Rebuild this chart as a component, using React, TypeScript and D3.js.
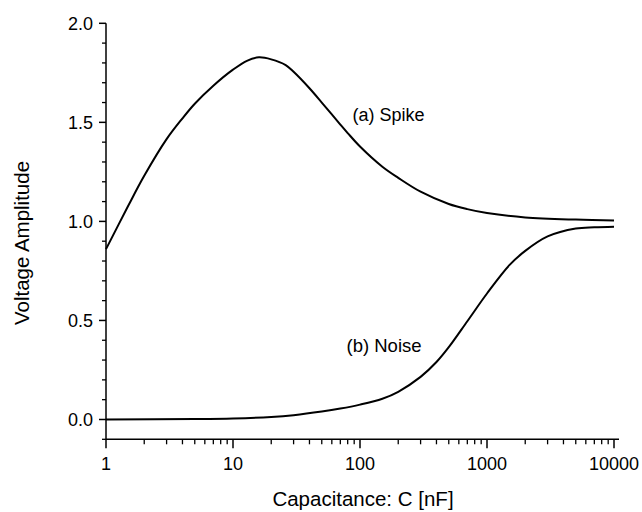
import React from "react";
import * as d3 from "d3";

const spikeC = [1, 1.5, 2, 3, 4, 5, 7, 10, 13, 16, 20, 26, 30, 40, 50, 60, 70, 80, 100, 150, 200, 300, 500, 700, 1000, 2000, 5000, 10000];
const spikeV = [0.86, 1.08, 1.23, 1.415, 1.52, 1.594, 1.685, 1.766, 1.812, 1.828, 1.818, 1.789, 1.755, 1.672, 1.6, 1.54, 1.489, 1.446, 1.378, 1.276, 1.22, 1.15, 1.088, 1.062, 1.042, 1.02, 1.009, 1.005];

const noiseC = [1, 5, 10, 20, 30, 50, 70, 100, 150, 200, 300, 400, 500, 700, 1000, 1500, 2000, 3000, 5000, 7000, 10000];
const noiseV = [0.0, 0.002, 0.005, 0.013, 0.022, 0.04, 0.055, 0.075, 0.105, 0.14, 0.215, 0.29, 0.365, 0.496, 0.636, 0.779, 0.851, 0.924, 0.964, 0.97, 0.973];

const xMajorTicks = [1, 10, 100, 1000, 10000];
const xTickLabels = ["1", "10", "100", "1000", "10000"];
const yMajorTicks = [0, 0.5, 1.0, 1.5, 2.0];
const yTickLabels = ["0.0", "0.5", "1.0", "1.5", "2.0"];
const yMinorTicks = [-0.1, 0.1, 0.2, 0.3, 0.4, 0.6, 0.7, 0.8, 0.9, 1.1, 1.2, 1.3, 1.4, 1.6, 1.7, 1.8, 1.9];

const xTitle = "Capacitance: C [nF]";
const yTitle = "Voltage Amplitude";
const spikeLabel = "(a) Spike";
const noiseLabel = "(b) Noise";

export default function App() {
  const x = d3.scaleLog().domain([1, 10000]).range([106, 614]);
  const y = d3.scaleLinear().domain([-0.1, 2.0]).range([439.3, 23.3]);

  const xMinor: number[] = [];
  for (let d = 1; d < 10000; d *= 10) {
    for (let k = 2; k <= 9; k++) xMinor.push(d * k);
  }

  const line = d3
    .line<[number, number]>()
    .x((d) => x(d[0]))
    .y((d) => y(d[1]))
    .curve(d3.curveCatmullRom.alpha(0.5));

  const spikePath = line(spikeC.map((c, i) => [c, spikeV[i]]) as [number, number][]) || "";
  const noisePath = line(noiseC.map((c, i) => [c, noiseV[i]]) as [number, number][]) || "";

  const font = "'Liberation Sans', Arial, Helvetica, sans-serif";
  const axisY = y(-0.1);
  const axisX = x(1);

  return (
    <svg
      width={642}
      height={512}
      style={{ position: "absolute", left: 0, top: 0, background: "#fff" }}
      fontFamily={font}
    >
      <rect x={0} y={0} width={642} height={512} fill="#fff" />
      <line x1={axisX} x2={619} y1={axisY} y2={axisY} stroke="#000" strokeWidth={1.5} />
      <line x1={axisX} x2={axisX} y1={y(2.0)} y2={axisY} stroke="#000" strokeWidth={1.5} />
      {xMajorTicks.map((t, i) => (
        <g key={"xm" + t}>
          <line x1={x(t)} x2={x(t)} y1={axisY} y2={axisY + 9} stroke="#000" strokeWidth={1.5} />
          <text x={x(t)} y={470} fontSize={18} textAnchor="middle" fill="#000">
            {xTickLabels[i]}
          </text>
        </g>
      ))}
      {xMinor.map((t) => (
        <line key={"xn" + t} x1={x(t)} x2={x(t)} y1={axisY} y2={axisY + 5} stroke="#000" strokeWidth={1.3} />
      ))}
      {yMajorTicks.map((t, i) => (
        <g key={"ym" + t}>
          <line x1={axisX - 7} x2={axisX} y1={y(t)} y2={y(t)} stroke="#000" strokeWidth={1.5} />
          <text x={93} y={y(t)} dy="0.36em" fontSize={18} textAnchor="end" fill="#000">
            {yTickLabels[i]}
          </text>
        </g>
      ))}
      {yMinorTicks.map((t) => (
        <line key={"yn" + t} x1={axisX - 4} x2={axisX} y1={y(t)} y2={y(t)} stroke="#000" strokeWidth={1.3} />
      ))}
      <path d={spikePath} fill="none" stroke="#000" strokeWidth={2} />
      <path d={noisePath} fill="none" stroke="#000" strokeWidth={2} />
      <text x={352.5} y={121} fontSize={18} fill="#000">{spikeLabel}</text>
      <text x={346.5} y={352} fontSize={18.5} fill="#000">{noiseLabel}</text>
      <text x={363} y={506} fontSize={20.5} textAnchor="middle" fill="#000">{xTitle}</text>
      <text
        transform={`translate(28.5, ${243}) rotate(-90)`}
        fontSize={20.5}
        textAnchor="middle"
        fill="#000"
      >
        {yTitle}
      </text>
    </svg>
  );
}
